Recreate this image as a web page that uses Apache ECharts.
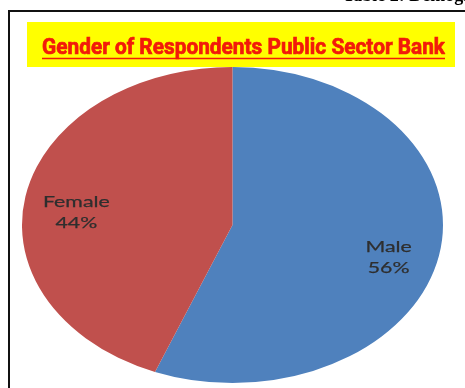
<!DOCTYPE html>
<html><head><meta charset="utf-8">
<script src="https://cdn.jsdelivr.net/npm/echarts@6/dist/echarts.min.js"></script>
<style>html,body{margin:0;padding:0;background:#fff;overflow:hidden}#c{width:465px;height:388px}</style>
</head><body><div id="c"></div>
<script>
// ---- data ----
const categories = ['Male', 'Female'];
const values = [56, 44];
const sliceColors = ['#4F81BD', '#C0504D'];
const titleText = 'Gender of Respondents Public Sector Bank';
const headerText = 'Table 2: Demographic Profile';

// ---- layout ----
const CX = 232.5, CY = 225, RY = 158, RX = 210.5;
const STRETCH = RX / RY;
const LABEL_R = 0.755;
const LABEL_DY = 10;
const total = values.reduce((a, b) => a + b, 0);

const chart = echarts.init(document.getElementById('c'), null, {renderer: 'canvas'});

// measure title for horizontal fit
const titleFont = 'bold 22px Roboto';
const ctx = document.createElement('canvas').getContext('2d');
ctx.font = titleFont;
const titleW = ctx.measureText(titleText).width;
const titleTarget = 403;
const titleScale = titleTarget / titleW;

function renderItem(params, api) {
  const i = params.dataIndex;
  let before = 0;
  for (let k = 0; k < i; k++) before += values[k];
  const v = api.value(0);
  const a0 = -Math.PI / 2 + before / total * Math.PI * 2;
  const a1 = -Math.PI / 2 + (before + v) / total * Math.PI * 2;
  const mid = (a0 + a1) / 2;
  const lx = CX + Math.cos(mid) * RX * LABEL_R;
  const ly = CY + Math.sin(mid) * RY * LABEL_R + LABEL_DY;
  const pct = Math.round(v / total * 100) + '%';
  return {
    type: 'group',
    children: [
      {
        type: 'sector',
        shape: {cx: CX, cy: CY, r: RY, r0: 0, startAngle: a0, endAngle: a1, clockwise: true},
        style: {fill: sliceColors[i]},
        scaleX: STRETCH, scaleY: 1, originX: CX, originY: CY
      },
      {
        type: 'text',
        x: lx, y: ly,
        scaleX: STRETCH, scaleY: 1, originX: 0, originY: 0,
        style: {
          text: categories[i] + '\n' + pct,
          fill: '#2e2e2e',
          stroke: '#2e2e2e', lineWidth: 0.25,
          font: '16px Lato',
          lineHeight: 21,
          align: 'center', verticalAlign: 'middle',
          textAlign: 'center', textVerticalAlign: 'middle'
        }
      }
    ]
  };
}

chart.setOption({
  animation: false,
  series: [{
    type: 'custom',
    coordinateSystem: 'none',
    renderItem: renderItem,
    data: values.map((v, i) => ({name: categories[i], value: [v]})),
    z: 2
  }],
  graphic: [
    {
      type: 'rect', z: 50,
      shape: {x: 9, y: 11, width: 520, height: 420},
      style: {fill: 'none', stroke: '#111', lineWidth: 2}
    },
    {
      type: 'rect', z: 60,
      shape: {x: 27, y: 22, width: 428, height: 45},
      style: {fill: '#FFFF00'}
    },
    {
      type: 'text', z: 61,
      x: 42, y: 48,
      scaleX: titleScale, originX: 0, originY: 0,
      style: {
        text: titleText, fill: '#F21A0A', font: titleFont,
        stroke: '#F21A0A', lineWidth: 0.7,
        align: 'left', verticalAlign: 'middle',
        textAlign: 'left', textVerticalAlign: 'middle'
      }
    },
    {
      type: 'line', z: 61,
      shape: {x1: 42, y1: 58.5, x2: 42 + titleTarget, y2: 58.5},
      style: {stroke: '#F21A0A', lineWidth: 1.5}
    },
    {
      type: 'text', z: 61,
      x: 343, y: 5,
      style: {
        text: headerText, fill: '#000', font: 'bold 18px "Liberation Serif"',
        align: 'left', verticalAlign: 'bottom',
        textAlign: 'left', textVerticalAlign: 'bottom'
      }
    }
  ]
});
</script>
</body></html>
